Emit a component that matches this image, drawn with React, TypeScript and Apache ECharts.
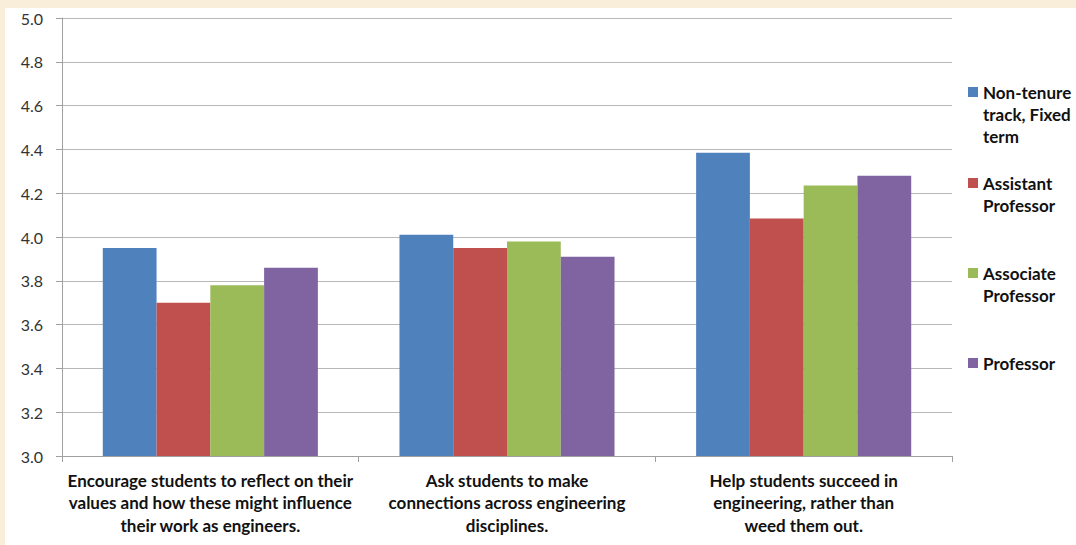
import React, { useEffect, useRef } from "react";
import * as echarts from "echarts";

const categories = [
  "Encourage students to reflect on their\nvalues and how these might influence\ntheir work as engineers.",
  "Ask students to make\nconnections across engineering\ndisciplines.",
  "Help students succeed in\nengineering, rather than\nweed them out.",
];

const seriesNames = [
  "Non-tenure\ntrack, Fixed\nterm",
  "Assistant\nProfessor",
  "Associate\nProfessor",
  "Professor",
];

const nonTenure = [3.95, 4.01, 4.385];
const assistant = [3.70, 3.95, 4.085];
const associate = [3.78, 3.98, 4.235];
const professor = [3.86, 3.91, 4.28];

const colors = ["#4F81BD", "#C0504D", "#9BBB59", "#8064A2"];

const yMin = 3.0;
const yMax = 5.0;
const yStep = 0.2;

const FONT = "Lato, 'Open Sans', sans-serif";
const LH = 22;

export default function App() {
  const ref = useRef<HTMLDivElement>(null);

  useEffect(() => {
    if (!ref.current) return;
    const chart = echarts.init(ref.current, null, { renderer: "svg" });
    const values = [nonTenure, assistant, associate, professor];

    // legend placement: first text line aligned with the square
    const iconCenters = [84, 175, 265, 355];
    const legends = seriesNames.map((name, i) => {
      const n = name.split("\n").length;
      const totalLines = 2 * n - 1;
      const top = iconCenters[i] - (totalLines * LH) / 2;
      return {
        data: [name],
        orient: "vertical" as const,
        left: 963,
        top,
        padding: 0,
        itemWidth: 10,
        itemHeight: 10,
        icon: "rect",
        selectedMode: false,
        formatter: (nm: string) => "\n".repeat(n - 1) + nm,
        textStyle: {
          fontFamily: FONT,
          fontWeight: "bold" as const,
          fontSize: 17,
          color: "#111111",
          lineHeight: LH,
        },
      };
    });

    chart.setOption({
      animation: false,
      backgroundColor: "#FFFFFF",
      color: colors,
      legend: legends,
      grid: { left: 57, top: 10, right: 124, bottom: 89, containLabel: false },
      xAxis: {
        type: "category",
        data: categories,
        axisLine: { show: true, lineStyle: { color: "#A0A0A0", width: 1 } },
        axisTick: { show: true, length: 6, alignWithLabel: false, lineStyle: { color: "#A0A0A0" } },
        axisLabel: {
          interval: 0,
          margin: 13,
          fontFamily: FONT,
          fontWeight: "bold",
          fontSize: 17,
          lineHeight: 22.5,
          color: "#111111",
          align: "center",
        },
        splitLine: { show: false },
      },
      yAxis: {
        type: "value",
        min: yMin,
        max: yMax,
        interval: yStep,
        axisLine: { show: true, lineStyle: { color: "#A0A0A0", width: 1 } },
        axisTick: { show: true, length: 6, lineStyle: { color: "#A0A0A0" } },
        axisLabel: {
          margin: 19,
          fontFamily: FONT,
          fontSize: 16,
          color: "#333333",
          formatter: (v: number) => v.toFixed(1),
        },
        splitLine: { show: true, lineStyle: { color: "#B8B8B8", width: 1 } },
      },
      series: seriesNames.map((name, i) => ({
        name,
        type: "bar",
        data: values[i],
        barGap: "0%",
        barCategoryGap: "27.5%",
        itemStyle: { color: colors[i] },
      })),
    });

    return () => chart.dispose();
  }, []);

  return (
    <div
      style={{
        position: "absolute",
        left: 0,
        top: 0,
        width: 1076,
        height: 545,
        background: "#F8EEDA",
      }}
    >
      <div
        ref={ref}
        style={{
          position: "absolute",
          left: 5,
          top: 8,
          width: 1071,
          height: 537,
          background: "#FFFFFF",
        }}
      />
    </div>
  );
}
